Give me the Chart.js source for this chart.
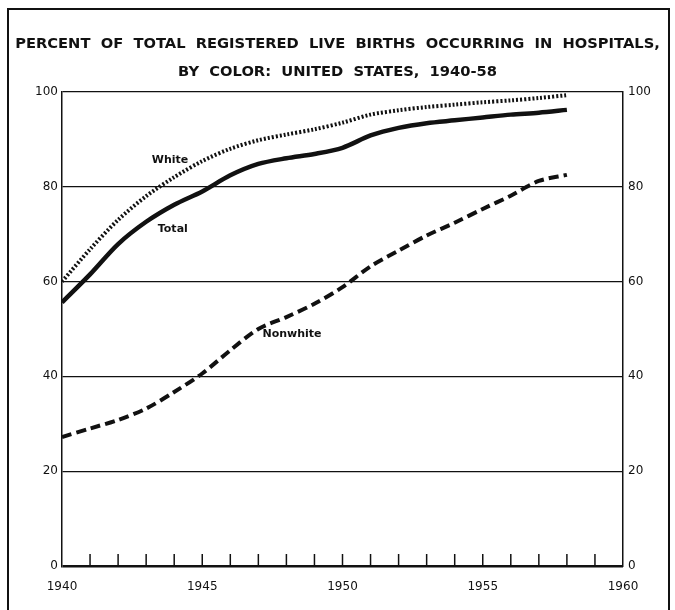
<!DOCTYPE html>
<html>
<head>
<meta charset="utf-8">
<script src="https://cdn.jsdelivr.net/npm/chart.js@4/dist/chart.umd.min.js"></script>
<style>
    html, body { margin: 0; padding: 0; background: #fff; }
    #wrap { position: relative; width: 675px; height: 610px; }
    #frame {
        position: absolute; left: 7px; top: 8px; width: 659px; height: 620px;
        border: 2px solid #111; pointer-events: none;
    }
</style>
</head>
<body>
<div id="wrap">
    <canvas id="graph" width="675" height="610"></canvas>
    <div id="frame"></div>
</div>
<script>
const years = [1940, 1941, 1942, 1943, 1944, 1945, 1946, 1947, 1948, 1949,
    1950, 1951, 1952, 1953, 1954, 1955, 1956, 1957, 1958];
const total = [55.6, 61.5, 67.9, 72.6, 76.2, 79.0, 82.4, 84.8, 86.0, 86.9,
    88.2, 90.8, 92.4, 93.4, 94.0, 94.6, 95.2, 95.6, 96.2];
const white = [60.0, 66.8, 73.0, 78.0, 82.0, 85.4, 88.0, 89.8, 91.0, 92.1,
    93.5, 95.2, 96.1, 96.8, 97.3, 97.8, 98.2, 98.7, 99.3];
const nonwhite = [27.2, 29.0, 30.8, 33.2, 36.7, 40.6, 45.5, 50.0, 52.5, 55.3,
    58.8, 63.2, 66.5, 69.7, 72.4, 75.3, 78.1, 81.2, 82.5];
const yTicks = [0, 20, 40, 60, 80, 100];
const minorYears = [1941, 1942, 1943, 1944, 1945, 1946, 1947, 1948, 1949, 1950,
    1951, 1952, 1953, 1954, 1955, 1956, 1957, 1958, 1959];
const labelText = ['White', 'Total', 'Nonwhite'];
const labelX = [1943.85, 1943.95, 1948.2];
const labelY = [85.5, 71.0, 48.8];

const pts = arr => arr.map((v, i) => ({ x: years[i], y: v }));

Chart.defaults.color = '#111';
Chart.defaults.font.family = '"DejaVu Sans", Verdana, sans-serif';
Chart.defaults.font.size = 12;

const extras = {
    id: 'extras',
    afterDatasetsDraw(chart) {
        const { ctx, scales: { x, y } } = chart;
        ctx.save();
        ctx.strokeStyle = '#111';
        ctx.lineWidth = 1.5;
        const base = y.getPixelForValue(0);
        minorYears.forEach(yr => {
            const px = x.getPixelForValue(yr);
            ctx.beginPath();
            ctx.moveTo(px, base);
            ctx.lineTo(px, base - 12);
            ctx.stroke();
        });
        ctx.fillStyle = '#111';
        ctx.font = '600 11px "DejaVu Sans", sans-serif';
        ctx.textAlign = 'center';
        ctx.textBaseline = 'middle';
        labelText.forEach((t, i) => {
            ctx.fillText(t, x.getPixelForValue(labelX[i]), y.getPixelForValue(labelY[i]));
        });
        ctx.restore();
    },
};

const graph = new Chart('graph', {
    type: 'line',

    data: {
        datasets: [{
            label: 'White',
            data: pts(white),
            borderColor: '#111',
            borderWidth: 4,
            borderDash: [2, 2],
            pointRadius: 0,
            tension: 0.3,
        }, {
            label: 'Total',
            data: pts(total),
            borderColor: '#111',
            borderWidth: 4.5,
            pointRadius: 0,
            tension: 0.3,
        }, {
            label: 'Nonwhite',
            data: pts(nonwhite),
            borderColor: '#111',
            borderWidth: 4,
            borderDash: [10, 5],
            pointRadius: 0,
            tension: 0.3,
        }],
    },

    options: {
        responsive: false,
        animation: false,
        layout: {
            padding: 0,
        },

        plugins: {
            legend: { display: false },
            tooltip: { enabled: false },
            title: {
                display: true,
                text: ['PERCENT  OF  TOTAL  REGISTERED  LIVE  BIRTHS  OCCURRING  IN  HOSPITALS,',
                    'BY  COLOR:  UNITED  STATES,  1940-58'],
                color: '#111',
                font: { size: 14.7, weight: 'bold', lineHeight: 1.9 },
                padding: { top: 30, bottom: 6 },
            },
        },

        scales: {
            x: {
                type: 'linear',
                min: 1940,
                max: 1960,
                grid: { display: false },
                border: { display: false },
                ticks: {
                    stepSize: 5,
                    padding: 6,
                    callback: v => v.toString(),
                },
                afterFit: s => { s.height = 44; },
            },

            y: {
                min: 0,
                max: 100,
                position: 'left',
                afterBuildTicks: s => { s.ticks = yTicks.map(v => ({ value: v })); },
                grid: {
                    color: '#111',
                    lineWidth: c => c.tick && c.tick.value === 0 ? 2.5 : 1.2,
                    drawTicks: false,
                },
                border: { display: true, color: '#111', width: 1.5 },
                ticks: { padding: 4 },
                afterFit: s => { s.width = 62; },
            },

            y2: {
                min: 0,
                max: 100,
                position: 'right',
                afterBuildTicks: s => { s.ticks = yTicks.map(v => ({ value: v })); },
                grid: { display: false, drawTicks: false },
                border: { display: true, color: '#111', width: 1.5 },
                ticks: { padding: 5 },
                afterFit: s => { s.width = 52; },
            },
        },
    },

    plugins: [extras],
});
</script>
</body>
</html>
